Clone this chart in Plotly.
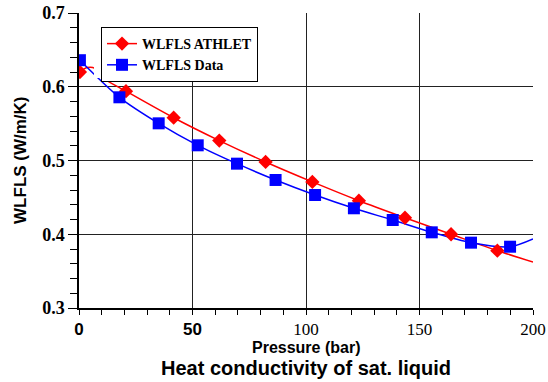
import plotly.graph_objects as go

# ATHLET markers (diamonds)
athlet_x = [0.4, 20.7, 41.7, 61.8, 82.2, 102.8, 123.3, 143.6, 163.9, 184.3]
athlet_y = [0.620, 0.594, 0.558, 0.527, 0.498, 0.471, 0.4455, 0.4224, 0.400, 0.3777]
# ATHLET curve
athlet_curve_x = [0.4, 3.5, 7.0, 9.7, 20.7, 41.7, 61.8, 82.2, 102.8, 123.3, 143.6, 163.9, 184.3, 200]
athlet_curve_y = [0.620, 0.626, 0.625, 0.6136, 0.594, 0.558, 0.527, 0.498, 0.471, 0.4455, 0.4224, 0.400, 0.3777, 0.3624]

# Data markers (squares)
data_x = [0.4, 17.8, 35.1, 52.3, 69.6, 86.6, 104.0, 121.1, 138.2, 155.4, 172.7, 189.9]
data_y = [0.636, 0.5857, 0.5504, 0.5206, 0.4957, 0.4736, 0.4532, 0.4352, 0.4193, 0.4026, 0.3886, 0.3831]
data_curve_x = data_x + [200]
data_curve_y = data_y + [0.3936]

x_ticks = [0, 50, 100, 150, 200]
x_ticktext = ["<span style='font-family:Liberation Sans;font-weight:bold'>0</span>",
              "<span style='font-family:Liberation Sans;font-weight:bold'>50</span>",
              "100", "150", "200"]
y_ticks = [0.3, 0.4, 0.5, 0.6, 0.7]
y_ticktext = ["0.3", "0.4", "0.5", "0.6", "0.7"]

RED = "#ff0000"
BLUE = "#0000ff"
SERIF = "Times New Roman"
SANS = "Liberation Sans"

fig = go.Figure()
fig.add_trace(go.Scatter(x=athlet_curve_x, y=athlet_curve_y, mode="lines",
                         line=dict(color=RED, width=1.5, shape="spline", smoothing=0.8),
                         showlegend=False, hoverinfo="skip"))
fig.add_trace(go.Scatter(x=data_curve_x, y=data_curve_y, mode="lines",
                         line=dict(color=BLUE, width=1.5, shape="spline", smoothing=0.8),
                         showlegend=False, hoverinfo="skip"))
fig.add_trace(go.Scatter(x=athlet_x, y=athlet_y, mode="markers",
                         marker=dict(symbol="diamond", size=11, color=RED, line=dict(width=0)),
                         showlegend=False))
fig.add_trace(go.Scatter(x=data_x, y=data_y, mode="markers",
                         marker=dict(symbol="square", size=12, color=BLUE, line=dict(width=0)),
                         showlegend=False))
# legend entries
fig.add_trace(go.Scatter(x=[None], y=[None], mode="lines+markers", name="<b>WLFLS ATHLET</b>",
                         line=dict(color=RED, width=1.5),
                         marker=dict(symbol="diamond", size=11, color=RED)))
fig.add_trace(go.Scatter(x=[None], y=[None], mode="lines+markers", name="<b>WLFLS Data</b>",
                         line=dict(color=BLUE, width=1.5),
                         marker=dict(symbol="square", size=12, color=BLUE)))

# white area behind the legend (covers grid and curves)
fig.add_shape(type="rect", xref="paper", yref="paper", x0=0.033, x1=0.458, y0=0.78, y1=1.044,
              fillcolor="white", line=dict(width=0), layer="above")

fig.update_layout(
    width=548, height=382,
    margin=dict(l=79, r=15, t=13, b=74, autoexpand=False),
    paper_bgcolor="white", plot_bgcolor="white",
    showlegend=True,
    legend=dict(x=0.0485, y=0.9525, xanchor="left", yanchor="top",
                bgcolor="white", bordercolor="black", borderwidth=1,
                font=dict(family=SERIF, size=14, color="black"),
                tracegroupgap=0),
    annotations=[
        dict(text="<b>Pressure (bar)</b>", x=0.5, xref="paper", y=-0.135, yref="paper",
             xanchor="center", yanchor="middle", showarrow=False,
             font=dict(family=SANS, size=16, color="black")),
        dict(text="<b>Heat conductivity of sat. liquid</b>", x=0.5, xref="paper", y=-0.204, yref="paper",
             xanchor="center", yanchor="middle", showarrow=False,
             font=dict(family=SANS, size=20, color="black")),
        dict(text="<b>WLFLS (W/m/K)</b>", x=-0.129, xref="paper", y=0.5, yref="paper",
             xanchor="center", yanchor="middle", showarrow=False, textangle=-90,
             font=dict(family=SANS, size=17, color="black")),
    ],
)

fig.update_xaxes(range=[0, 200], tickvals=x_ticks, ticktext=x_ticktext, automargin=False,
                 showgrid=True, gridcolor="#222222", gridwidth=1,
                 showline=True, linecolor="black", linewidth=1.5,
                 ticks="outside", ticklen=5, tickcolor="black", tickwidth=1,
                 minor=dict(dtick=10, ticks="outside", ticklen=5, tickcolor="black", showgrid=False),
                 tickfont=dict(family=SERIF, size=17, color="black"),
                 zeroline=False, fixedrange=True)
fig.update_yaxes(range=[0.3, 0.7], tickvals=y_ticks, ticktext=["<b>%s</b>" % t for t in y_ticktext],
                 automargin=False,
                 showgrid=True, gridcolor="#222222", gridwidth=1,
                 showline=True, linecolor="black", linewidth=1.5,
                 ticks="outside", ticklen=9, tickcolor="black", tickwidth=1,
                 minor=dict(dtick=0.02, ticks="outside", ticklen=7, tickcolor="black", showgrid=False),
                 tickfont=dict(family=SERIF, size=18, color="black"),
                 zeroline=False, fixedrange=True)

fig.write_html("out.html")
